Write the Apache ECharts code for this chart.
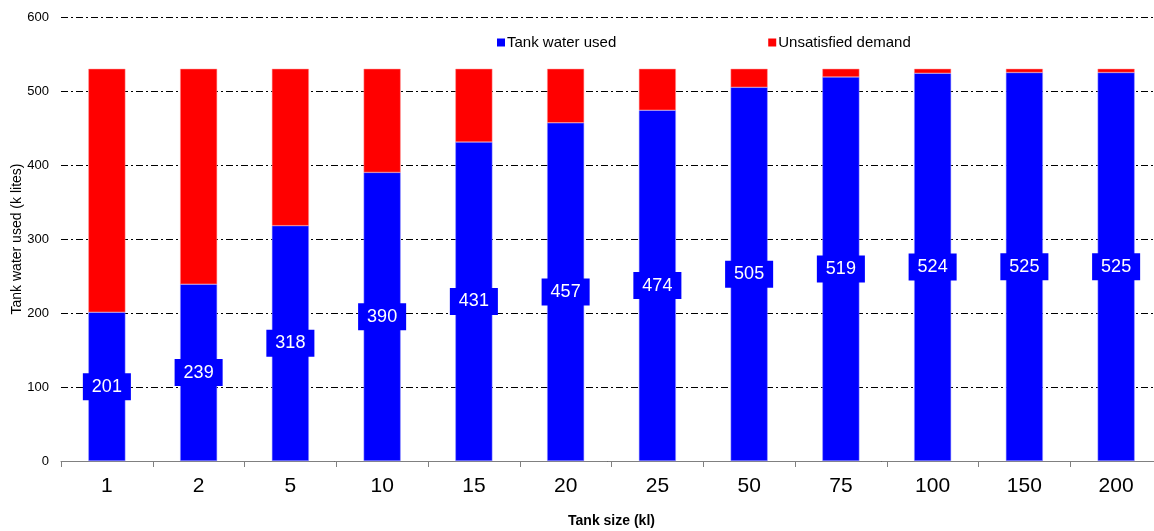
<!DOCTYPE html>
<html>
<head>
<meta charset="utf-8">
<script src="https://cdn.jsdelivr.net/npm/echarts@6/dist/echarts.min.js"></script>
<style>html,body{margin:0;padding:0;background:#fff}#c{width:1154px;height:531px}</style>
</head>
<body>
<div id="c"></div>
<script>
var categories = ['1','2','5','10','15','20','25','50','75','100','150','200'];
var tankUsed = [201,239,318,390,431,457,474,505,519,524,525,525];
var unsatisfied = [329,291,212,140,99,73,56,25,11,6,5,5];
var yTicks = [0,100,200,300,400,500,600];

var chart = echarts.init(document.getElementById('c'));
var ff = '"Liberation Sans", Arial, sans-serif';
chart.setOption({
  animation: false,
  textStyle: {fontFamily: ff},
  grid: {left: 61, right: -8, top: 17, bottom: 70, containLabel: false, outerBoundsMode: 'none'},
  legend: {
    data: ['Tank water used', 'Unsatisfied demand'],
    left: 492, top: 30,
    icon: 'rect', itemWidth: 8, itemHeight: 8, itemGap: 152,
    itemStyle: {borderWidth: 0},
    textStyle: {fontSize: 15, color: '#000', padding: [0,0,0,-3]}
  },
  xAxis: {
    type: 'category', data: categories,
    name: 'Tank size (kl)', nameLocation: 'middle', nameGap: 53,
    nameMoveOverlap: false,
    nameTextStyle: {fontSize: 14, fontWeight: 'bold', color: '#000'},
    axisLine: {lineStyle: {color: '#808080', width: 1}},
    axisTick: {show: true, length: 6, lineStyle: {color: '#808080'}},
    axisLabel: {fontSize: 21, color: '#000', margin: 15}
  },
  yAxis: {
    type: 'value', min: yTicks[0], max: yTicks[yTicks.length-1], interval: 100,
    name: 'Tank water used (k lites)', nameLocation: 'middle', nameGap: 37,
    nameMoveOverlap: false,
    nameTextStyle: {fontSize: 14, color: '#000'},
    axisLine: {show: false}, axisTick: {show: false},
    axisLabel: {fontSize: 13, color: '#000', margin: 12},
    splitLine: {lineStyle: {color: '#000', width: 1, type: [7,3,2,3]}}
  },
  series: [
    {
      name: 'Tank water used', type: 'bar', stack: 'a', data: tankUsed, barWidth: 37,
      itemStyle: {color: '#0000ff', borderColor: '#9999ff', borderWidth: 0.5},
      label: {
        show: true, position: 'inside', color: '#fff', fontSize: 18,
        backgroundColor: '#0000ff', padding: [5,9,4,9]
      }
    },
    {
      name: 'Unsatisfied demand', type: 'bar', stack: 'a', data: unsatisfied, barWidth: 37,
      itemStyle: {color: '#ff0000', borderColor: '#ff9999', borderWidth: 0.5}
    }
  ]
});
</script>
</body>
</html>
